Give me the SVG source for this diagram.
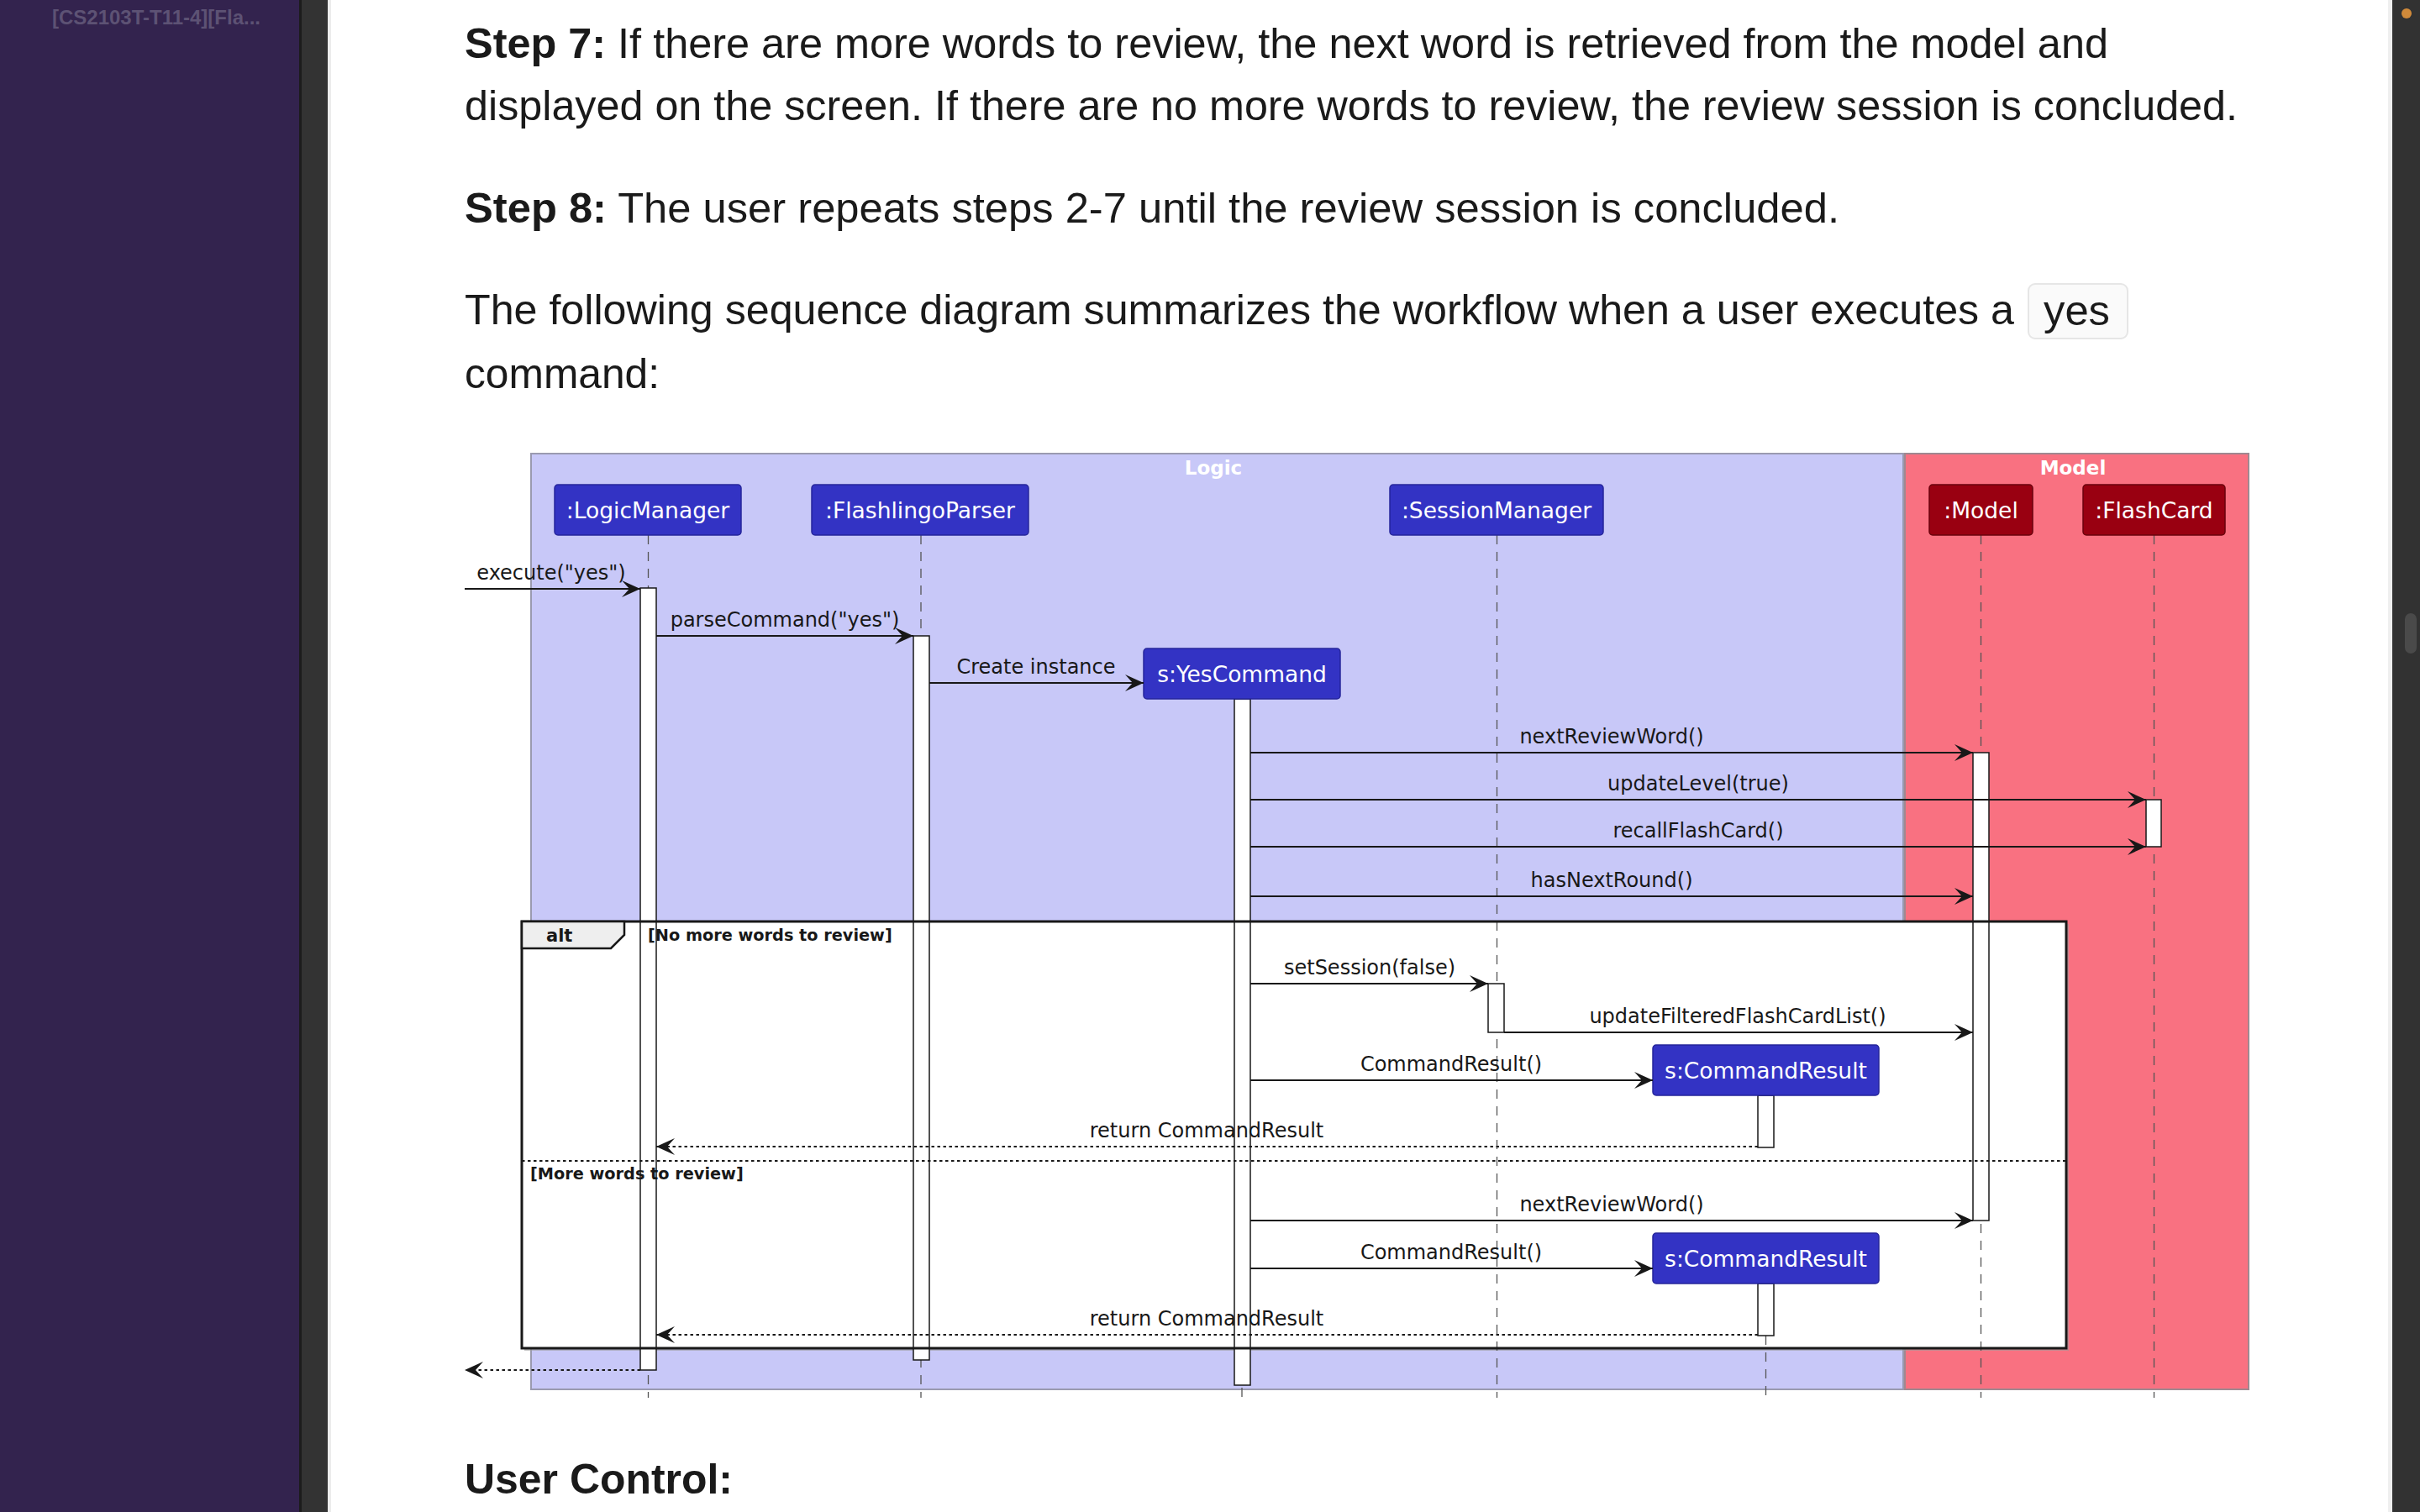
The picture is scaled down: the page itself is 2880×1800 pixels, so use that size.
<svg xmlns="http://www.w3.org/2000/svg" width="2880" height="1800" viewBox="0 0 2880 1800">
<defs>
<style>
.page{font-family:"Liberation Sans",Arial,sans-serif;font-size:50px;fill:#1a1a1a}
.b{font-weight:bold}
.part{stroke-width:1.5}
.pl{fill:#3333c4;stroke:#26269a}
.pm{fill:#990011;stroke:#6a000c}
.pt{font-family:"DejaVu Sans",sans-serif;font-size:26.5px;fill:#ffffff;text-anchor:middle}
.life{stroke:#555;stroke-width:1.3;stroke-dasharray:11,9;fill:none}
.bar{fill:#ffffff;stroke:#181818;stroke-width:1.5}
.msg{stroke:#181818;stroke-width:2.2;fill:none;marker-end:url(#ah)}
.ret{stroke:#181818;stroke-width:2;fill:none;stroke-dasharray:3.5,3.5;marker-end:url(#ah)}
.ml{font-family:"DejaVu Sans",sans-serif;font-size:24px;fill:#181818;text-anchor:middle}
.guard{font-family:"DejaVu Sans",sans-serif;font-size:19.3px;font-weight:bold;fill:#181818}
.boxt{font-family:"DejaVu Sans",sans-serif;font-size:23px;font-weight:bold;fill:#ffffff;text-anchor:middle}
</style>
<marker id="ah" viewBox="-24 -11 25 22" refX="0" refY="0" markerWidth="25" markerHeight="22" markerUnits="userSpaceOnUse" orient="auto">
<path d="M0,0 L-22,-10 L-13,0 L-22,10 Z" fill="#181818"/>
</marker>
</defs>

<!-- page chrome -->
<rect x="0" y="0" width="2880" height="1800" fill="#ffffff"/>
<rect x="0" y="0" width="357" height="1800" fill="#33234e"/>
<rect x="356" y="0" width="3" height="1800" fill="#1c1c1c"/>
<rect x="359" y="0" width="31" height="1800" fill="#333333"/>
<rect x="390" y="0" width="4" height="1800" fill="#ececec"/>
<rect x="2842" y="0" width="5" height="1800" fill="#efefef"/>
<rect x="2847" y="0" width="33" height="1800" fill="#323232"/>
<rect x="2862" y="730" width="14" height="48" rx="7" fill="#4a4a4a"/>
<circle cx="2864" cy="16" r="6" fill="#d08a3a"/>
<text x="62" y="29" font-family="Liberation Sans, Arial, sans-serif" font-size="23" font-weight="bold" fill="#5d5274" textLength="248" lengthAdjust="spacingAndGlyphs">[CS2103T-T11-4][Fla...</text>

<!-- paragraphs -->
<text class="page" x="553" y="69" textLength="1956" lengthAdjust="spacingAndGlyphs"><tspan class="b">Step 7:</tspan> If there are more words to review, the next word is retrieved from the model and</text>
<text class="page" x="553" y="143" textLength="2110" lengthAdjust="spacingAndGlyphs">displayed on the screen. If there are no more words to review, the review session is concluded.</text>
<text class="page" x="553" y="265" textLength="1636" lengthAdjust="spacingAndGlyphs"><tspan class="b">Step 8:</tspan> The user repeats steps 2-7 until the review session is concluded.</text>
<text class="page" x="553" y="386" textLength="1844" lengthAdjust="spacingAndGlyphs">The following sequence diagram summarizes the workflow when a user executes a</text>
<rect x="2414" y="338" width="118" height="65" rx="8" fill="#fafafa" stroke="#e6e6e6" stroke-width="2"/>
<text class="page" x="2432" y="387" textLength="79" lengthAdjust="spacingAndGlyphs">yes</text>
<text class="page" x="553" y="462" textLength="232" lengthAdjust="spacingAndGlyphs">command:</text>
<text class="page b" x="553" y="1778" textLength="319" lengthAdjust="spacingAndGlyphs">User Control:</text>

<!-- boxes -->
<g id="box-logic">
<rect x="632" y="540" width="1633" height="1114" fill="#c8c8f8" stroke="#9a9ab0" stroke-width="2"/>
<text class="boxt" x="1444" y="565">Logic</text>
</g>
<g id="box-model">
<rect x="2267" y="540" width="409" height="1114" fill="#f97181" stroke="#a08890" stroke-width="2"/>
<text class="boxt" x="2467" y="565">Model</text>
</g>

<!-- alt frame background -->
<g id="alt-bg">
<rect x="624" y="1100" width="1838" height="508" fill="#9a9a9a" opacity="0.6"/>
<rect x="621" y="1097" width="1838" height="508" fill="#ffffff"/>
</g>

<!-- lifelines -->
<g id="lifelines">
<line class="life" x1="771.5" y1="637" x2="771.5" y2="1664"/>
<line class="life" x1="1096" y1="637" x2="1096" y2="1664"/>
<line class="life" x1="1478" y1="832" x2="1478" y2="1664"/>
<line class="life" x1="1781.5" y1="637" x2="1781.5" y2="1664"/>
<line class="life" x1="2357.5" y1="637" x2="2357.5" y2="1664"/>
<line class="life" x1="2563.5" y1="637" x2="2563.5" y2="1664"/>
<line class="life" x1="2101.5" y1="1590" x2="2101.5" y2="1667"/>
</g>

<!-- activation bars -->
<g id="activations">
<rect class="bar" x="762" y="700" width="19" height="931"/>
<rect class="bar" x="1087" y="757" width="19" height="862"/>
<rect class="bar" x="1469" y="832" width="19" height="817"/>
<rect class="bar" x="2348" y="896" width="19" height="557"/>
<rect class="bar" x="2554" y="952" width="18" height="56"/>
<rect class="bar" x="1771" y="1171" width="19" height="58"/>
<rect class="bar" x="2092" y="1304" width="19" height="62"/>
<rect class="bar" x="2092" y="1528" width="19" height="62"/>
</g>

<!-- participants -->
<g id="p-logicmanager"><rect class="part pl" x="660" y="577" width="222" height="60" rx="4"/><text class="pt" x="771" y="617">:LogicManager</text></g>
<g id="p-flashlingoparser"><rect class="part pl" x="966" y="577" width="258" height="60" rx="4"/><text class="pt" x="1095" y="617">:FlashlingoParser</text></g>
<g id="p-sessionmanager"><rect class="part pl" x="1654" y="577" width="254" height="60" rx="4"/><text class="pt" x="1781" y="617">:SessionManager</text></g>
<g id="p-model"><rect class="part pm" x="2296" y="577" width="123" height="60" rx="4"/><text class="pt" x="2357.5" y="617">:Model</text></g>
<g id="p-flashcard"><rect class="part pm" x="2479" y="577" width="169" height="60" rx="4"/><text class="pt" x="2563.5" y="617">:FlashCard</text></g>
<g id="p-yescommand"><rect class="part pl" x="1361" y="772" width="234" height="60" rx="4"/><text class="pt" x="1478" y="812">s:YesCommand</text></g>
<g id="p-commandresult-1"><rect class="part pl" x="1967" y="1244" width="269" height="60" rx="4"/><text class="pt" x="2101.5" y="1284">s:CommandResult</text></g>
<g id="p-commandresult-2"><rect class="part pl" x="1967" y="1468" width="269" height="60" rx="4"/><text class="pt" x="2101.5" y="1508">s:CommandResult</text></g>

<!-- messages -->
<g id="connectors">
<line class="msg" x1="553" y1="701" x2="762" y2="701"/>
<text class="ml" x="656" y="690">execute("yes")</text>
<line class="msg" x1="781" y1="757" x2="1087" y2="757"/>
<text class="ml" x="934" y="746">parseCommand("yes")</text>
<line class="msg" x1="1106" y1="813" x2="1361" y2="813"/>
<text class="ml" x="1233" y="802">Create instance</text>
<line class="msg" x1="1488" y1="896" x2="2348" y2="896"/>
<text class="ml" x="1918" y="885">nextReviewWord()</text>
<line class="msg" x1="1488" y1="952" x2="2554" y2="952"/>
<text class="ml" x="2021" y="941">updateLevel(true)</text>
<line class="msg" x1="1488" y1="1008" x2="2554" y2="1008"/>
<text class="ml" x="2021" y="997">recallFlashCard()</text>
<line class="msg" x1="1488" y1="1067" x2="2348" y2="1067"/>
<text class="ml" x="1918" y="1056">hasNextRound()</text>
<line class="msg" x1="1488" y1="1171" x2="1771" y2="1171"/>
<text class="ml" x="1630" y="1160">setSession(false)</text>
<line class="msg" x1="1790" y1="1229" x2="2348" y2="1229"/>
<text class="ml" x="2068" y="1218">updateFilteredFlashCardList()</text>
<line class="msg" x1="1488" y1="1286" x2="1967" y2="1286"/>
<text class="ml" x="1727" y="1275">CommandResult()</text>
<line class="ret" x1="2092" y1="1365" x2="781" y2="1365"/>
<text class="ml" x="1436" y="1354">return CommandResult</text>
<line class="msg" x1="1488" y1="1453" x2="2348" y2="1453"/>
<text class="ml" x="1918" y="1442">nextReviewWord()</text>
<line class="msg" x1="1488" y1="1510" x2="1967" y2="1510"/>
<text class="ml" x="1727" y="1499">CommandResult()</text>
<line class="ret" x1="2092" y1="1589" x2="781" y2="1589"/>
<text class="ml" x="1436" y="1578">return CommandResult</text>
<line class="ret" x1="762" y1="1631" x2="553" y2="1631"/>
</g>

<!-- alt frame -->
<g id="alt-frame">
<rect x="621" y="1097" width="1838" height="508" fill="none" stroke="#181818" stroke-width="3"/>
<path d="M621,1097 L743,1097 L743,1113 L727,1129 L621,1129 Z" fill="#eeeeee" stroke="#181818" stroke-width="2.5"/>
<text x="650" y="1121" font-family="DejaVu Sans, sans-serif" font-size="21" font-weight="bold" fill="#181818">alt</text>
<text class="guard" x="771" y="1120">[No more words to review]</text>
<line x1="621" y1="1382" x2="2459" y2="1382" stroke="#181818" stroke-width="2" stroke-dasharray="3.5,3.5"/>
<text class="guard" x="631" y="1404">[More words to review]</text>
</g>
</svg>
